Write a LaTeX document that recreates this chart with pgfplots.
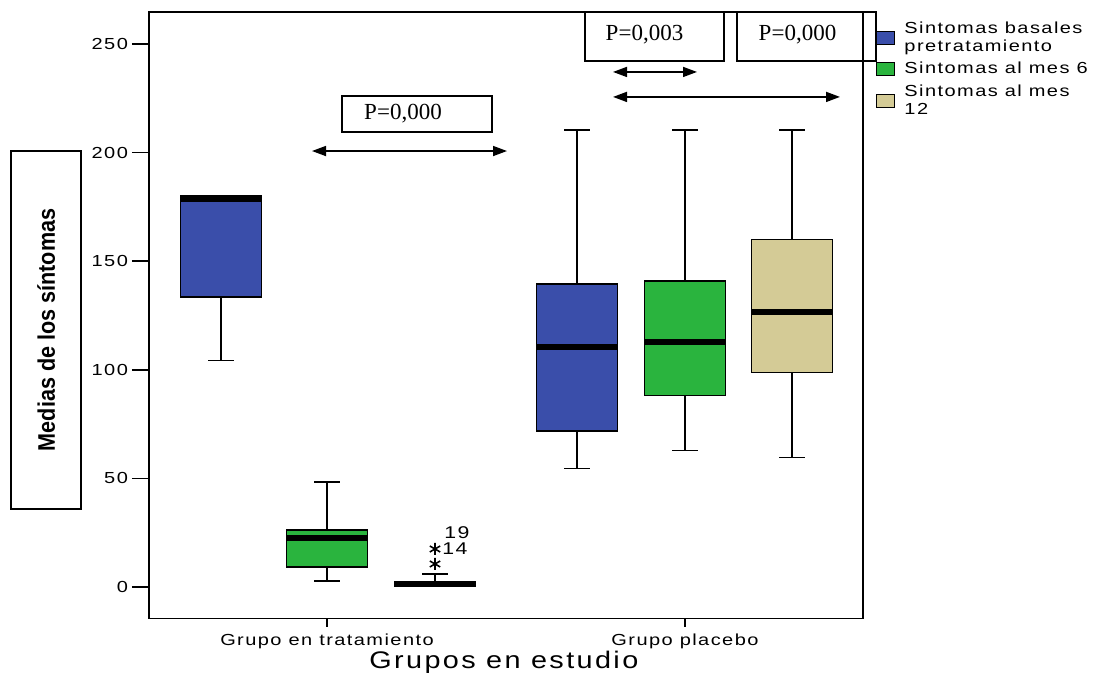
\documentclass[border=0pt]{standalone}
\usepackage{fontspec}
\setmainfont{Liberation Sans}
\newfontfamily\lsans[FakeStretch=1.25, LetterSpace=9]{Liberation Sans}
\newfontfamily\xsans[FakeStretch=1.2, LetterSpace=10]{Liberation Sans}
\newfontfamily\ysans[FakeStretch=0.9]{Liberation Sans}
\newfontfamily\lserif{Liberation Serif}
\usepackage{pgfplots}
\pgfplotsset{compat=1.18}
\usepgfplotslibrary{statistics}
\usetikzlibrary{arrows.meta}
\definecolor{cblue}{RGB}{58,78,170}
\definecolor{cgreen}{RGB}{42,180,62}
\definecolor{ctan}{RGB}{212,203,150}
\begin{document}
\begin{tikzpicture}
\path[use as bounding box] (0,0) rectangle (549.5pt,337.5pt);
\begin{axis}[
 at={(74.5pt,28.25pt)}, anchor=south west,
 scale only axis, width=357pt, height=303.25pt,
 xmin=149, xmax=863, ymin=-14.5, ymax=264.7,
 clip=false,
 axis line style={line width=0.9pt},
 xtick={327,685}, xticklabels={Grupo en tratamiento, Grupo placebo},
 ytick={0,50,...,250},
 tick align=outside, xtick pos=bottom, ytick pos=left,
 major tick length=4pt,
 y tick style={/pgfplots/major tick length=8.5pt},
 tick style={black, line width=0.8pt},
 ticklabel style={font=\lsans\fontsize{8}{9}\selectfont},
 yticklabel style={xshift=-3pt},
 /pgf/number format/assume math mode=true,
 xlabel={Grupos en estudio},
 xlabel style={font=\xsans\fontsize{12}{13}\selectfont, at={(rel axis cs:0.497,-0.0717)}, anchor=center},
 ylabel={\bfseries Medias de los síntomas},
 ylabel style={draw, line width=0.8pt, font=\ysans\fontsize{12}{13}\selectfont, minimum width=179pt, minimum height=35pt, at={(rel axis cs:-0.144,0.476)}, anchor=center},
 legend style={at={(rel axis cs:1.018,0.99)}, anchor=north west, draw=none, fill=none, inner sep=0pt, column sep=3pt, row sep=1pt, nodes={inner sep=1.5pt}, font=\lsans\fontsize{8}{9}\selectfont, cells={anchor=west, align=left}},
 legend cell align=left,
 boxplot/draw direction=y,
 boxplot/box extend=81, boxplot/whisker extend=26,
 boxplot/every median/.style={line width=3pt, black},
 boxplot/every whisker/.style={black, line width=0.8pt},
]
% Grupo en tratamiento
\addplot[forget plot, boxplot prepared={draw position=221, lower whisker=104.2, lower quartile=133.5, median=178.6, upper quartile=180, upper whisker=180},
  boxplot/every box/.style={draw=black, fill=cblue, line width=0.8pt}] coordinates {};
\addplot[forget plot, boxplot prepared={draw position=327, lower whisker=2.8, lower quartile=9.2, median=22.7, upper quartile=26.2, upper whisker=48.3},
  boxplot/every box/.style={draw=black, fill=cgreen, line width=0.8pt}] coordinates {};
\addplot[forget plot, mark=asterisk, mark size=3pt, mark options={black, line width=0.8pt}, boxplot prepared={draw position=435, lower whisker=0.2, lower quartile=0.2, median=1.3, upper quartile=2.4, upper whisker=6},
  boxplot/every box/.style={draw=black, fill=ctan, line width=0.8pt}] coordinates {(0,10.6) (0,17.5)};
% Grupo placebo
\addplot[forget plot, boxplot prepared={draw position=577, lower whisker=54.6, lower quartile=71.8, median=110.6, upper quartile=139.5, upper whisker=210.4},
  boxplot/every box/.style={draw=black, fill=cblue, line width=0.8pt}] coordinates {};
\addplot[forget plot, boxplot prepared={draw position=685, lower whisker=62.9, lower quartile=88.2, median=112.9, upper quartile=141, upper whisker=210.4},
  boxplot/every box/.style={draw=black, fill=cgreen, line width=0.8pt}] coordinates {};
\addplot[forget plot, boxplot prepared={draw position=792, lower whisker=59.7, lower quartile=98.8, median=126.8, upper quartile=160, upper whisker=210.4},
  boxplot/every box/.style={draw=black, fill=ctan, line width=0.8pt}] coordinates {};

\addlegendimage{legend image code/.code={\draw[draw=black,fill=cblue,line width=0.6pt] (0pt,-3.25pt) rectangle (9pt,3.25pt);}}
\addlegendentry{Sintomas basales\\pretratamiento}
\addlegendimage{legend image code/.code={\draw[draw=black,fill=cgreen,line width=0.6pt] (0pt,-3.25pt) rectangle (9pt,3.25pt);}}
\addlegendentry{Sintomas al mes 6}
\addlegendimage{legend image code/.code={\draw[draw=black,fill=ctan,line width=0.6pt] (0pt,-3.25pt) rectangle (9pt,3.25pt);}}
\addlegendentry{Sintomas al mes\\12}

% outlier labels
\node[anchor=west, font=\lsans\fontsize{8.5}{9}\selectfont, inner sep=0pt] at (axis cs:442,17.5) {14};
\node[anchor=west, font=\lsans\fontsize{8.5}{9}\selectfont, inner sep=0pt] at (axis cs:444,24.9) {19};

% significance annotations
\draw[{Triangle[length=7pt,width=5pt]}-{Triangle[length=7pt,width=5pt]}, line width=0.8pt] (axis cs:312,200.7) -- (axis cs:507,200.7);
\draw[{Triangle[length=7pt,width=5pt]}-{Triangle[length=7pt,width=5pt]}, line width=0.8pt] (axis cs:613,237.1) -- (axis cs:697,237.1);
\draw[{Triangle[length=7pt,width=5pt]}-{Triangle[length=7pt,width=5pt]}, line width=0.8pt] (axis cs:613,225.6) -- (axis cs:840,225.6);
\draw[line width=0.8pt] (axis cs:342,226.1) rectangle (axis cs:492,209.5);
\node[font=\lserif\fontsize{11.5}{12}\selectfont] at (axis cs:403,217.8) {P=0,000};
\draw[line width=0.8pt] (axis cs:585,264.7) rectangle (axis cs:724,242.2);
\node[font=\lserif\fontsize{11.5}{12}\selectfont] at (axis cs:644.5,254.5) {P=0,003};
\draw[line width=0.8pt] (axis cs:737,264.7) rectangle (axis cs:876,242.2);
\node[font=\lserif\fontsize{11.5}{12}\selectfont] at (axis cs:797.5,254.5) {P=0,000};
\end{axis}
\end{tikzpicture}
\end{document}
